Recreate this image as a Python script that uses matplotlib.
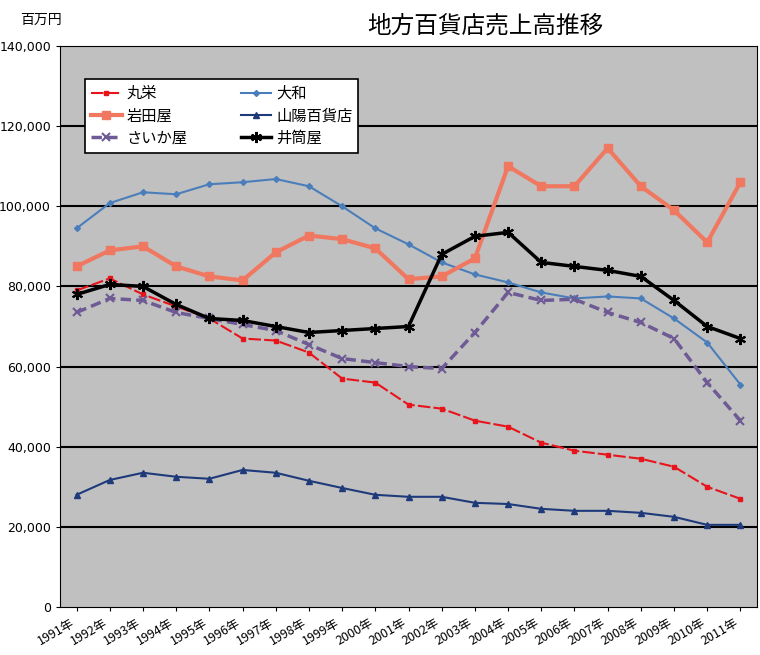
import matplotlib
matplotlib.use("Agg")
import matplotlib.pyplot as plt

plt.rcParams["font.family"] = ["Noto Sans CJK JP", "DejaVu Sans"]

years = [f"{y}年" for y in range(1991, 2012)]
maruei = [79000, 82000, 78000, 75000, 72000, 67000, 66500, 63500, 57000, 56000, 50500,
          49500, 46500, 45000, 41000, 39000, 38000, 37000, 35000, 30000, 27000]
daiwa = [94500, 100800, 103500, 103000, 105500, 106000, 106800, 105000, 100000, 94500, 90500,
         86000, 83000, 81000, 78500, 77000, 77500, 77000, 72000, 66000, 55500]
iwataya = [85000, 89000, 90000, 85000, 82500, 81500, 88500, 92700, 91800, 89500, 81800,
           82500, 87000, 110000, 105000, 105000, 114500, 105000, 99000, 91000, 106000]
sanyo = [28000, 31700, 33500, 32500, 32000, 34200, 33500, 31500, 29700, 28000, 27500,
         27500, 26000, 25700, 24500, 24000, 24000, 23500, 22500, 20500, 20500]
saikaya = [73500, 77000, 76500, 73500, 72000, 70500, 69000, 65500, 62000, 61000, 60000,
           59500, 68500, 78500, 76500, 76800, 73500, 71000, 67000, 56000, 46500]
izutsuya = [78000, 80500, 80000, 75500, 72000, 71500, 70000, 68500, 69000, 69500, 70000,
            88000, 92500, 93500, 86000, 85000, 84000, 82500, 76500, 70000, 67000]
yticks = list(range(0, 140001, 20000))

fig = plt.figure(figsize=(7.6, 6.55), dpi=100)
ax = fig.add_axes([60/760, 1-607/655, 697/760, 561/655])
ax.set_facecolor("#c0c0c0")
x = list(range(len(years)))

h = {}
h["丸栄"], = ax.plot(x, maruei, color="#e8141c", lw=1.5, ls=(0, (6, 1.5)), marker="s", ms=3, label="丸栄")
h["大和"], = ax.plot(x, daiwa, color="#4a7ebb", lw=1.5, marker="D", ms=3, label="大和")
h["岩田屋"], = ax.plot(x, iwataya, color="#f07860", lw=3, marker="s", ms=6, label="岩田屋")
h["山陽百貨店"], = ax.plot(x, sanyo, color="#1f3a7a", lw=1.5, marker="^", ms=4, label="山陽百貨店")
h["さいか屋"], = ax.plot(x, saikaya, color="#6e5a94", lw=2.5, ls=(0, (3, 1.5)), marker="x", ms=6, mew=1.5, label="さいか屋")
h["井筒屋"], = ax.plot(x, izutsuya, color="black", lw=2.5, marker=(6, 2, 0), ms=8, mew=1.5, label="井筒屋")

ax.set_xlim(-0.5, 20.5)
ax.set_ylim(0, 140000)
ax.set_yticks(yticks)
ax.set_yticklabels([f"{v:,}" for v in yticks], fontsize=9, fontfamily="DejaVu Sans")
ax.set_xticks(x)
ax.set_xticklabels(years, rotation=30, ha="right", fontsize=9)
ax.tick_params(length=3)
for v in yticks[1:-1]:
    ax.axhline(v, color="black", lw=1.5, zorder=0.5)

order = ["丸栄", "岩田屋", "さいか屋", "大和", "山陽百貨店", "井筒屋"]
leg = ax.legend([h[k] for k in order], order, ncol=2, loc="upper left",
                bbox_to_anchor=(0.025, 0.955), fontsize=11,
                frameon=True, fancybox=False, edgecolor="black", framealpha=1,
                columnspacing=3.5, handlelength=2, handletextpad=0.3, borderpad=0.4,
                labelspacing=0.35)
leg.get_frame().set_linewidth(1.2)

fig.text(20/760, 1-20/655, "百万円", fontsize=10, va="center")
fig.text(485/760, 1-26/655, "地方百貨店売上高推移", fontsize=17, ha="center", va="center",
         bbox=dict(facecolor="white", edgecolor="none", pad=4))

fig.savefig("out.png", dpi=100)
